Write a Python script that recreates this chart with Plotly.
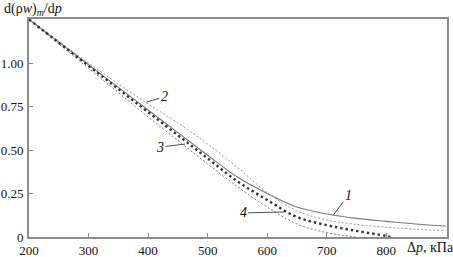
import plotly.graph_objects as go

# Curve 1 (solid)
x1 = [200, 250, 300, 350, 400, 450, 500, 550, 600, 650, 700, 750, 800, 850, 900]
y1 = [1.25, 1.12, 0.99, 0.86, 0.73, 0.60, 0.47, 0.345, 0.25, 0.172, 0.132, 0.107, 0.09, 0.075, 0.063]
# Curve 2 (upper dashed)
x2 = [200, 250, 300, 350, 400, 450, 500, 550, 600, 650, 700, 750, 800, 850, 900]
y2 = [1.25, 1.125, 1.0, 0.88, 0.765, 0.655, 0.535, 0.40, 0.255, 0.15, 0.098, 0.072, 0.056, 0.045, 0.036]
# Curve 3 (lower dashed)
x3 = [200, 250, 300, 350, 400, 450, 500, 550, 600, 650, 700, 750]
y3 = [1.25, 1.11, 0.97, 0.83, 0.69, 0.555, 0.42, 0.29, 0.172, 0.075, 0.025, 0.0]
# Curve 4 (dotted)
x4 = [200, 250, 300, 350, 400, 450, 500, 550, 600, 650, 700, 750, 800, 807]
y4 = [1.25, 1.117, 0.984, 0.851, 0.718, 0.585, 0.452, 0.32, 0.213, 0.115, 0.068, 0.035, 0.006, 0.0]

xticks = [200, 300, 400, 500, 600, 700, 800]
yticks = [0, 0.25, 0.5, 0.75, 1.0]
yticklabels = ["0", "0.25", "0.50", "0.75", "1.00"]

# label anchors (data) and offsets
labels = ["1", "2", "3", "4"]
lab_x = [711, 397, 462, 630]
lab_y = [0.126, 0.776, 0.534, 0.144]
lab_ax = [15, 18, -25, -42]
lab_ay = [-20, -5, 3, 1]

FONT = "'Times New Roman', 'Liberation Serif', Times, 'Nimbus Roman', 'DejaVu Serif'"

fig = go.Figure()
fig.add_trace(go.Scatter(x=x1, y=y1, mode="lines", line=dict(color="#7a7a7a", width=1.1, shape="spline"), hoverinfo="skip"))
fig.add_trace(go.Scatter(x=x2, y=y2, mode="lines", line=dict(color="#8a8a8a", width=0.9, dash="2px,2px", shape="spline"), hoverinfo="skip"))
fig.add_trace(go.Scatter(x=x3, y=y3, mode="lines", line=dict(color="#6a6a6a", width=0.9, dash="2px,2px", shape="spline"), hoverinfo="skip"))
fig.add_trace(go.Scatter(x=x4, y=y4, mode="lines", line=dict(color="#333333", width=2.4, dash="2.4px,3px", shape="spline"), hoverinfo="skip"))

for t, xa, ya, ax, ay in zip(labels, lab_x, lab_y, lab_ax, lab_ay):
    fig.add_annotation(x=xa, y=ya, xref="x", yref="y", text="<i>" + t + "</i>", showarrow=True,
                       arrowhead=0, arrowwidth=0.8, arrowcolor="#222", ax=ax, ay=ay, standoff=0,
                       font=dict(family=FONT, size=14, color="#111"))

fig.add_annotation(xref="paper", yref="paper", x=-0.064, y=1.045, xanchor="left", yanchor="middle",
                   text="d(ρ<i>w</i>)<sub><i>m</i></sub>/d<i>p</i>", showarrow=False,
                   font=dict(family=FONT, size=14, color="#111"))
fig.add_annotation(xref="paper", yref="paper", x=0.899, y=-0.046, xanchor="left", yanchor="middle",
                   text="Δ<i>p</i>, кПа", showarrow=False,
                   font=dict(family=FONT, size=14, color="#111"))

fig.update_layout(
    width=453, height=257,
    margin=dict(l=29, r=6, t=19, b=20, autoexpand=False),
    paper_bgcolor="white", plot_bgcolor="white",
    showlegend=False,
    font=dict(family=FONT, size=13, color="#111"),
)
fig.update_xaxes(range=[200, 902], tickvals=xticks, ticks="inside", ticklen=4, tickcolor="#888",
                 showline=True, linecolor="#8c8c8c", linewidth=2, mirror=True, showgrid=False,
                 zeroline=False, automargin=False, ticklabelstandoff=0,
                 tickfont=dict(family=FONT, size=13))
fig.update_yaxes(range=[0, 1.253], tickvals=yticks, ticktext=yticklabels, ticks="inside", ticklen=4,
                 tickcolor="#888", showline=True, linecolor="#8c8c8c", linewidth=2, mirror=True,
                 showgrid=False, zeroline=False, automargin=False, ticklabelstandoff=1,
                 tickfont=dict(family=FONT, size=13))

fig.write_html("out.html")
